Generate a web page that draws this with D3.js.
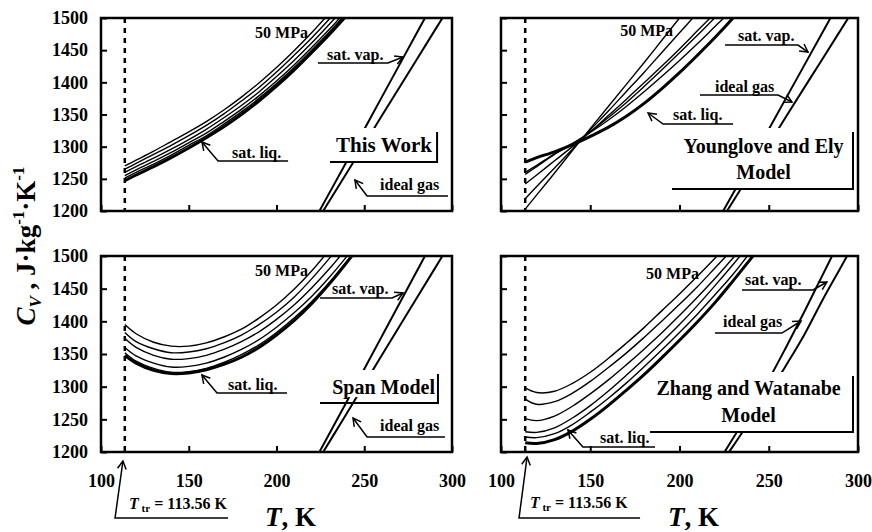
<!DOCTYPE html>
<html>
<head>
<meta charset="utf-8">
<script src="https://cdn.jsdelivr.net/npm/d3@7"></script>
<style>
  body { margin: 0; background: #fff; }
  svg text { font-family: "Liberation Serif", "Times New Roman", serif; font-weight: bold; fill: #000; }
</style>
</head>
<body>
<div id="chart"></div>
<script>

// ---- data ----
var T_TR = 113.56;
var xTicks = [100, 150, 200, 250, 300];
var yTicks = [1200, 1250, 1300, 1350, 1400, 1450, 1500];

// temperature grid of the isobars, K
var tGrid = [113.56, 120, 130, 140, 150, 160, 170, 180, 190, 200, 210, 220, 230, 240, 250];
// first array = sat. liq., last = 50 MPa
var thisWork = [
  [1247, 1256, 1269, 1283, 1298, 1314, 1331, 1350, 1371, 1394, 1419, 1446, 1474, 1504, 1535],
  [1251, 1260, 1273, 1287, 1302, 1317, 1335, 1354, 1375, 1398, 1423, 1450, 1478, 1508, 1539],
  [1255, 1264, 1277, 1291, 1306, 1321, 1339, 1358, 1379, 1402, 1427, 1454, 1482, 1512],
  [1260, 1269, 1282, 1296, 1311, 1327, 1345, 1364, 1385, 1409, 1434, 1461, 1490, 1520],
  [1265, 1274, 1288, 1302, 1317, 1333, 1351, 1371, 1392, 1416, 1442, 1469, 1498, 1529],
  [1270, 1279, 1293, 1308, 1323, 1339, 1357, 1377, 1399, 1423, 1449, 1477, 1507]
];
var youngloveEly = [
  [1276, 1283, 1292, 1303, 1316, 1330, 1347, 1367, 1390, 1415, 1442, 1470, 1500, 1532],
  [1260, 1271, 1289, 1305, 1322, 1341, 1362, 1385, 1409, 1434, 1460, 1487, 1514],
  [1257, 1269, 1288, 1304, 1323, 1345, 1368, 1393, 1419, 1446, 1473, 1501],
  [1242, 1256, 1278, 1300, 1323, 1348, 1373, 1399, 1425, 1452, 1480, 1508],
  [1219, 1238, 1267, 1296, 1326, 1355, 1385, 1415, 1446, 1477, 1508],
  [1203, 1225, 1259, 1294, 1328, 1362, 1396, 1430, 1465, 1500, 1535]
];
var spanModel = [
  [1348, 1336, 1325, 1320, 1321, 1326, 1334, 1345, 1360, 1379, 1401, 1427, 1457, 1490, 1525],
  [1352, 1339, 1328, 1322, 1323, 1328, 1337, 1349, 1364, 1383, 1405, 1430, 1459, 1491, 1525],
  [1360, 1347, 1336, 1330, 1331, 1336, 1345, 1357, 1372, 1391, 1413, 1438, 1467, 1499, 1533],
  [1374, 1360, 1348, 1342, 1343, 1348, 1357, 1369, 1384, 1403, 1425, 1451, 1480, 1512],
  [1383, 1369, 1358, 1352, 1353, 1358, 1367, 1379, 1395, 1414, 1437, 1465, 1496, 1529],
  [1395, 1381, 1368, 1362, 1362, 1367, 1376, 1388, 1405, 1425, 1449, 1477, 1509]
];
var zhangWatanabe = [
  [1214, 1213, 1219, 1232, 1250, 1271, 1294, 1318, 1344, 1371, 1399, 1429, 1462, 1496, 1531],
  [1223, 1222, 1228, 1242, 1261, 1282, 1305, 1330, 1356, 1383, 1411, 1441, 1472, 1507],
  [1231, 1230, 1237, 1252, 1271, 1293, 1317, 1342, 1368, 1395, 1424, 1455, 1487, 1520],
  [1251, 1248, 1255, 1270, 1289, 1310, 1333, 1357, 1382, 1409, 1437, 1466, 1497, 1528],
  [1281, 1273, 1277, 1290, 1308, 1329, 1351, 1375, 1400, 1426, 1453, 1482, 1511],
  [1298, 1291, 1293, 1305, 1322, 1343, 1366, 1390, 1416, 1442, 1469, 1497, 1526]
];

// saturated vapour and ideal gas
var gasT = [220, 240, 260, 280, 300];
var satVap = [1178, 1277, 1377, 1477, 1577];
var idealGas = [1171, 1259, 1348, 1436, 1524];
var gasTZW = [220, 230, 240, 250, 260, 270, 280, 290, 300];
var satVapZW = [1177, 1221, 1265, 1311, 1362, 1415, 1470, 1525];
var idealGasZW = [1170, 1209, 1250, 1290, 1334, 1380, 1432, 1481, 1530];

// ---- layout ----
var W = 872, H = 532;
var FONT = "'Liberation Serif', 'Times New Roman', serif";

// annotation positions are given in data units (T, Cv)
var panels = [
  { curves: thisWork, vapT: gasT, vap: satVap, ideal: idealGas,
    x0: 101, x1: 452, y0: 18, y1: 211, left: true, bottom: false,
    mpa: [217.9, 1468.9],
    notes: [
      { text: "sat. liq.", at: [174.6, 1282.4], path: [[206.6, 1277.7], [166.7, 1277.7], [157.5, 1307.2]] },
      { text: "sat. vap.", at: [228.8, 1434.7], path: [[223.6, 1430.0], [263.5, 1430.0], [272.1, 1439.4]] },
      { text: "ideal gas", at: [259.0, 1232.6], path: [[297.7, 1223.3], [251.6, 1223.3], [244.7, 1248.2]] }
    ],
    box: { lines: ["This Work"], anchor: "end", tx: 288.6, base: [1291.7], size: 21,
           t0: 230.5, t1: 291.5, top: 1329.0, bot: 1276.2, border: 1276.2 } },
  { curves: youngloveEly, vapT: gasT, vap: satVap, ideal: idealGas,
    x0: 501, x1: 858, y0: 18, y1: 211, left: false, bottom: false,
    mpa: [196.4, 1472.0],
    notes: [
      { text: "sat. vap.", at: [232.8, 1464.2], path: [[225.5, 1458.0], [266.4, 1458.0], [272.0, 1447.1]] },
      { text: "ideal gas", at: [219.9, 1385.0], path: [[211.5, 1380.3], [255.2, 1380.3], [263.0, 1369.4]] },
      { text: "sat. liq.", at: [196.4, 1341.4], path: [[230.0, 1335.2], [190.8, 1335.2], [182.4, 1352.3]] }
    ],
    box: { lines: ["Younglove and Ely", "Model"], anchor: "middle", tx: 247.1, base: [1290.1, 1249.7], size: 20,
           t0: 195.8, t1: 297.2, top: 1329.0, bot: 1234.2, border: 1234.2 } },
  { curves: spanModel, vapT: gasT, vap: satVap, ideal: idealGas,
    x0: 101, x1: 452, y0: 256, y1: 452, left: true, bottom: true,
    mpa: [217.9, 1469.4],
    notes: [
      { text: "sat. vap.", at: [231.6, 1441.8], path: [[224.8, 1435.7], [265.8, 1435.7], [272.1, 1443.4]] },
      { text: "sat. liq.", at: [172.4, 1294.9], path: [[206.0, 1290.3], [166.1, 1290.3], [157.5, 1317.8]] },
      { text: "ideal gas", at: [259.0, 1232.1], path: [[296.0, 1222.9], [251.6, 1222.9], [243.6, 1252.0]] }
    ],
    box: { lines: ["Span Model"], anchor: "end", tx: 290.3, base: [1288.8], size: 20,
           t0: 224.8, t1: 292.0, top: 1325.5, bot: 1284.0, border: 1275.0 },
    ttr: { tip: [112.5, 1186.2], corner: [108.0, 1099.0], end: [172.4, 1099.0], at: [116.0, 1112.7] } },
  { curves: zhangWatanabe, vapT: gasTZW, vap: satVapZW, ideal: idealGasZW,
    x0: 501, x1: 858, y0: 256, y1: 452, left: false, bottom: true,
    mpa: [210.9, 1464.8],
    notes: [
      { text: "sat. vap.", at: [236.7, 1455.6], path: [[235.0, 1448.0], [274.8, 1448.0], [282.6, 1460.2]] },
      { text: "ideal gas", at: [224.4, 1391.3], path: [[219.9, 1382.1], [257.4, 1382.1], [268.1, 1400.5]] },
      { text: "sat. liq.", at: [155.5, 1213.8], path: [[186.3, 1207.6], [145.9, 1207.6], [137.5, 1233.7]] }
    ],
    box: { lines: ["Zhang and Watanabe", "Model"], anchor: "middle", tx: 238.7, base: [1287.2, 1245.9], size: 20,
           t0: 183.5, t1: 297.2, top: 1322.4, bot: 1230.6, border: 1230.6 },
    ttr: { tip: [114.6, 1192.3], corner: [110.1, 1099.0], end: [177.9, 1099.0], at: [116.2, 1114.3] } }
];

var svg = d3.select("#chart").append("svg")
    .attr("width", W)
    .attr("height", H)
    .attr("font-family", FONT);

function arrowHead(g, from, tip) {
  var a = Math.atan2(from[1] - tip[1], from[0] - tip[0]), L = 9, s = 0.5;
  var pts = [
    [tip[0] + L * Math.cos(a + s), tip[1] + L * Math.sin(a + s)],
    tip,
    [tip[0] + L * Math.cos(a - s), tip[1] + L * Math.sin(a - s)]
  ];
  g.append("path")
      .attr("d", d3.line()(pts))
      .attr("fill", "none")
      .attr("stroke", "#000")
      .attr("stroke-width", 1.5);
}

panels.forEach(function(p, i) {

  var x = d3.scaleLinear().domain([100, 300]).range([p.x0, p.x1]);
  var y = d3.scaleLinear().domain([1200, 1500]).range([p.y1, p.y0]);
  var pt = function(d) { return [x(d[0]), y(d[1])]; };

  var g = svg.append("g").attr("class", "panel");

  g.append("clipPath")
      .attr("id", "clip" + i)
    .append("rect")
      .attr("x", p.x0)
      .attr("y", p.y0)
      .attr("width", p.x1 - p.x0)
      .attr("height", p.y1 - p.y0);

  var plot = g.append("g").attr("clip-path", "url(#clip" + i + ")");

  var line = d3.line()
      .x(function(d) { return x(d[0]); })
      .y(function(d) { return y(d[1]); })
      .curve(d3.curveCatmullRom.alpha(0.5));

  // isobars, sat. liq. drawn last and thick
  p.curves.slice().reverse().forEach(function(c, j) {
    var isLiq = j === p.curves.length - 1;
    plot.append("path")
        .datum(d3.zip(tGrid, c))
        .attr("d", line)
        .attr("fill", "none")
        .attr("stroke", "#000")
        .attr("stroke-width", isLiq ? 3 : 1.4);
  });

  [p.vap, p.ideal].forEach(function(c) {
    plot.append("path")
        .datum(d3.zip(p.vapT, c))
        .attr("d", line)
        .attr("fill", "none")
        .attr("stroke", "#000")
        .attr("stroke-width", 2);
  });

  // triple point
  plot.append("line")
      .attr("x1", x(T_TR)).attr("x2", x(T_TR))
      .attr("y1", p.y0).attr("y2", p.y1)
      .attr("stroke", "#000")
      .attr("stroke-width", 2.5)
      .attr("stroke-dasharray", "5,5");

  // model label box
  var b = p.box;
  g.append("rect")
      .attr("x", x(b.t0))
      .attr("y", y(b.top))
      .attr("width", x(b.t1) - x(b.t0))
      .attr("height", y(b.bot) - y(b.top))
      .attr("fill", "#fff");
  g.append("path")
      .attr("d", d3.line()([[x(b.t0), y(b.border)], [x(b.t1), y(b.border)], [x(b.t1), y(b.top) + 4]]))
      .attr("fill", "none")
      .attr("stroke", "#000")
      .attr("stroke-width", 2);
  b.lines.forEach(function(s, k) {
    g.append("text")
        .attr("x", x(b.tx))
        .attr("y", y(b.base[k]))
        .style("font-size", b.size + "px")
        .style("text-anchor", b.anchor)
        .text(s);
  });

  g.append("text")
      .attr("x", x(p.mpa[0]))
      .attr("y", y(p.mpa[1]))
      .style("font-size", "16px")
      .style("text-anchor", "end")
      .text("50 MPa");

  p.notes.forEach(function(n) {
    g.append("text")
        .attr("x", x(n.at[0]))
        .attr("y", y(n.at[1]))
        .style("font-size", "16px")
        .text(n.text);
    var pts = n.path.map(pt);
    g.append("path")
        .attr("d", d3.line()(pts))
        .attr("fill", "none")
        .attr("stroke", "#000")
        .attr("stroke-width", 1.5);
    arrowHead(g, pts[pts.length - 2], pts[pts.length - 1]);
  });

  // axes
  var yAxis = d3.axisLeft(y)
      .tickValues(yTicks)
      .tickSize(-6)
      .tickPadding(13)
      .tickFormat(p.left ? d3.format("d") : "");
  var xAxis = d3.axisBottom(x)
      .tickValues(xTicks)
      .tickSize(-6)
      .tickPadding(22)
      .tickFormat(p.bottom ? d3.format("d") : "");

  var ya = g.append("g")
      .attr("transform", "translate(" + p.x0 + ",0)")
      .call(yAxis);
  var xa = g.append("g")
      .attr("transform", "translate(0," + p.y1 + ")")
      .call(xAxis);
  [ya, xa].forEach(function(a) {
    a.attr("font-family", FONT);
    a.select(".domain").remove();
    a.selectAll(".tick line").attr("stroke-width", 2);
    a.selectAll(".tick text")
        .style("font-size", "18px")
        .style("font-family", FONT)
        .style("font-weight", "bold");
  });

  g.append("rect")
      .attr("x", p.x0)
      .attr("y", p.y0)
      .attr("width", p.x1 - p.x0)
      .attr("height", p.y1 - p.y0)
      .attr("fill", "none")
      .attr("stroke", "#000")
      .attr("stroke-width", 2.5);

  if (p.ttr) {
    var tp = [pt(p.ttr.end), pt(p.ttr.corner), pt(p.ttr.tip)];
    g.append("path")
        .attr("d", d3.line()(tp))
        .attr("fill", "none")
        .attr("stroke", "#000")
        .attr("stroke-width", 1.5);
    arrowHead(g, tp[1], tp[2]);
    var tt = g.append("text")
        .attr("x", x(p.ttr.at[0]))
        .attr("y", y(p.ttr.at[1]))
        .style("font-size", "16px");
    tt.append("tspan").style("font-style", "italic").text("T");
    tt.append("tspan").attr("dy", 3).style("font-size", "11px").text(" tr");
    tt.append("tspan").attr("dy", -3).text(" = 113.56 K");

    var xt = svg.append("text")
        .attr("x", (p.x0 + p.x1) / 2 + 14)
        .attr("y", 526)
        .style("font-size", "27px")
        .style("text-anchor", "middle");
    xt.append("tspan").style("font-style", "italic").text("T");
    xt.append("tspan").text(", K");
  }
});

// y axis title
var yt = svg.append("text")
    .attr("transform", "translate(35,246) rotate(-90)")
    .style("font-size", "27px")
    .style("text-anchor", "middle");
yt.append("tspan").style("font-style", "italic").text("C");
yt.append("tspan").attr("dy", 6).style("font-size", "17px").style("font-style", "italic").text("V");
yt.append("tspan").attr("dy", -6).text(" , J\u00B7kg");
yt.append("tspan").attr("dy", -11).style("font-size", "17px").text("-1");
yt.append("tspan").attr("dy", 11).text("\u00B7K");
yt.append("tspan").attr("dy", -11).style("font-size", "17px").text("-1");

</script>
</body>
</html>
